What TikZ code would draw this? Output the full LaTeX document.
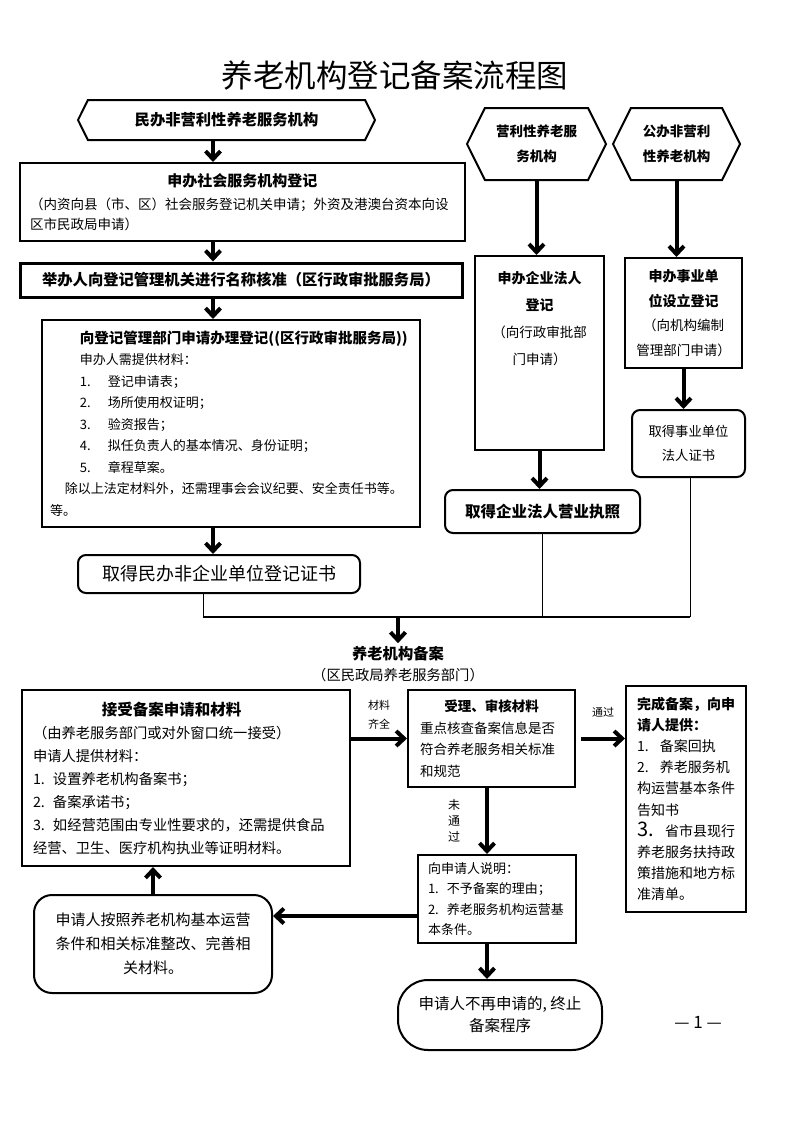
\documentclass[tikz,border=0pt]{standalone}
\usepackage{fontspec}
\setmainfont{Noto Sans CJK SC}
\usetikzlibrary{arrows.meta,shapes.symbols}

\newcommand{\ctrline}[1]{\makebox[\hsize]{#1}}
\newcommand{\numbox}[2]{\makebox[#1][l]{#2}}

\begin{document}
\begin{tikzpicture}[x=1pt, y=-1pt,
    box/.style={draw, line width=2pt, inner sep=0pt, align=left},
    rbox/.style={box, rounded corners=8pt, align=center},
    hexa/.style={draw, line width=2pt, signal, signal to=west and east,
      signal pointer angle=127, inner sep=0pt, align=center},
    arr/.style={line width=4pt, -{Straight Barb[length=8pt,width=15pt]}},
    link/.style={line width=1pt},
    bus/.style={line width=2.5pt},
    note/.style={inner sep=1pt, align=center, font=\fontsize{11}{19}\selectfont}]
  \useasboundingbox (0,0) rectangle (793,1122);

  \node (title) at (395,75) {\fontsize{31.5}{34}\selectfont 养老机构登记备案流程图};

  % left column: minban feizhengli
  \coordinate (col) at (213,0);
  \node[hexa, minimum width=297pt, minimum height=40pt,
    font=\bfseries\fontsize{15.3}{20}\selectfont] (minban) at (226.5,120) {民办非营利性养老服务机构};
  \node[box, minimum width=445pt, minimum height=78pt, text width=425pt,
    font=\fontsize{13.5}{20}\selectfont] (shehui) at (242.5,202)
    {\ctrline{\bfseries\fontsize{15}{20}\selectfont 申办社会服务机构登记}\\[3pt]%
     （内资向县（市、区）社会服务登记机关申请；外资及港澳台资本向设\\区市民政局申请）};
  \node[box, line width=3pt, align=center, minimum width=442pt, minimum height=34pt,
    font=\bfseries\fontsize{15.3}{20}\selectfont] (hezhun) at (241,280)
    {举办人向登记管理机关进行名称核准（区行政审批服务局）};
  \node[box, minimum width=378pt, minimum height=207pt, text width=366pt,
    font=\fontsize{13}{21.5}\selectfont] (dengji) at (231,423.5)
    {\hspace*{32pt}{\bfseries\fontsize{14.5}{21.5}\selectfont 向登记管理部门申请办理登记((区行政审批服务局))}\\
     \hspace*{32pt}申办人需提供材料：\\
     \hspace*{32pt}\numbox{28pt}{1.}登记申请表；\\
     \hspace*{32pt}\numbox{28pt}{2.}场所使用权证明；\\
     \hspace*{32pt}\numbox{28pt}{3.}验资报告；\\
     \hspace*{32pt}\numbox{28pt}{4.}拟任负责人的基本情况、身份证明；\\
     \hspace*{32pt}\numbox{28pt}{5.}章程草案。\\
     \hspace*{17pt}除以上法定材料外，还需理事会会议纪要、安全责任书等。\\
     \hspace*{2pt}等。};
  \node[rbox, minimum width=282pt, minimum height=38pt,
    font=\fontsize{18}{22}\selectfont] (minfei) at (219,574) {取得民办非企业单位登记证书};

  \draw[arr] (minban.south -| col) -- (shehui.north -| col);
  \draw[arr] (shehui.south -| col) -- (hezhun.north -| col);
  \draw[arr] (hezhun.south -| col) -- (dengji.north -| col);
  \draw[arr] (dengji.south -| col) -- (minfei.north -| col);

  % middle column: yingli
  \node[hexa, minimum width=139pt, minimum height=72pt,
    font=\bfseries\fontsize{13.5}{25}\selectfont] (yingli) at (536.5,144) {营利性养老服\\务机构};
  \node[box, anchor=north, align=center, minimum width=129pt, text width=117pt,
    text height=27pt, text depth=167pt, font=\fontsize{13.5}{27}\selectfont] (qiye) at (539.5,255)
    {{\bfseries\fontsize{14}{27}\selectfont 申办企业法人}\\{\bfseries\fontsize{14}{27}\selectfont 登记}\\（向行政审批部\\门申请）};
  \node[rbox, minimum width=195pt, minimum height=43pt,
    font=\bfseries\fontsize{15.5}{20}\selectfont] (zhizhao) at (542.5,511.5) {取得企业法人营业执照};

  % right column: gongban
  \node[hexa, minimum width=127pt, minimum height=72pt,
    font=\bfseries\fontsize{13.5}{25}\selectfont] (gongban) at (676.5,144) {公办非营利\\性养老机构};
  \node[box, align=center, minimum width=117pt, minimum height=110pt, text width=111pt,
    font=\fontsize{13.5}{24.5}\selectfont] (shiye) at (683.5,313)
    {{\bfseries\fontsize{14}{24.5}\selectfont 申办事业单}\\{\bfseries\fontsize{14}{24.5}\selectfont 位设立登记}\\（向机构编制\\管理部门申请）};
  \node[rbox, minimum width=113pt, minimum height=67pt,
    font=\fontsize{13.3}{24}\selectfont] (zhengshu) at (688.5,443.5) {取得事业单位\\法人证书};

  \draw[arr] (yingli.south) -- (yingli.south |- qiye.north);
  \draw[arr] (gongban.south) -- (gongban.south |- shiye.north);
  \draw[arr] (qiye.south) -- (qiye.south |- zhizhao.north);
  \draw[arr] (shiye.south) -- (shiye.south |- zhengshu.north);

  % bus line into beian
  \coordinate (bus-l) at (203,617);
  \coordinate (bus-m) at (398,617);
  \coordinate (bus-r) at (690,617);
  \draw[link] (minfei.south -| bus-l) -- (bus-l);
  \draw[link] (zhizhao.south) -- (zhizhao.south |- bus-l);
  \draw[link] (zhengshu.south -| bus-r) -- (bus-r);
  \draw[bus] (bus-l) -- (bus-r);

  \node[align=center, font=\fontsize{14.3}{21}\selectfont] (beian) at (398,664.5)
    {{\bfseries\fontsize{15.3}{21}\selectfont 养老机构备案}\\（区民政局养老服务部门）};
  \draw[arr] (bus-m) -- (beian.north);

  % beian steps
  \node[box, minimum width=328pt, minimum height=176pt, text width=306pt,
    font=\fontsize{14.3}{23}\selectfont] (jieshou) at (186,778)
    {\hspace*{69pt}{\bfseries\fontsize{15.5}{23}\selectfont 接受备案申请和材料}\\
     （由养老服务部门或对外窗口统一接受）\\
     申请人提供材料：\\
     \numbox{20pt}{1.}设置养老机构备案书；\\
     \numbox{20pt}{2.}备案承诺书；\\
     \numbox{20pt}{3.}如经营范围由专业性要求的，还需提供食品\\
     经营、卫生、医疗机构执业等证明材料。};
  \node[box, minimum width=167pt, minimum height=97pt, text width=143pt,
    font=\fontsize{13.5}{21.5}\selectfont] (shenhe) at (491.5,738.5)
    {\ctrline{\bfseries 受理、审核材料}\\重点核查备案信息是否\\符合养老服务相关标准\\和规范};
  \node[box, minimum width=120pt, minimum height=226pt, text width=98pt,
    font=\fontsize{14}{21.2}\selectfont] (wancheng) at (686,799)
    {{\bfseries 完成备案，向申}\\{\bfseries 请人提供：}\\
     \numbox{23pt}{1.}备案回执\\
     \numbox{23pt}{2.}养老服务机\\构运营基本条件\\告知书\\
     \numbox{28pt}{\fontsize{20}{21.2}\selectfont 3.}省市县现行\\养老服务扶持政\\策措施和地方标\\准清单。};
  \node[box, minimum width=158pt, minimum height=88pt, text width=138pt,
    font=\fontsize{13}{20.5}\selectfont] (shuoming) at (497,899)
    {向申请人说明：\\
     \numbox{19pt}{1.}不予备案的理由；\\
     \numbox{19pt}{2.}养老服务机构运营基\\本条件。};
  \node[rbox, rounded corners=18pt, minimum width=238pt, minimum height=98pt, text width=220pt,
    font=\fontsize{15}{24}\selectfont] (zhenggai) at (153,944)
    {申请人按照养老机构基本运营\\条件和相关标准整改、完善相\\关材料。};
  \node[rbox, rounded corners=30pt, minimum width=204pt, minimum height=70pt,
    font=\fontsize{15.5}{22}\selectfont] (zhongzhi) at (500,1015) {申请人不再申请的,\ 终止\\备案程序};
  \node[font=\fontsize{17}{20}\selectfont] (yema) at (698,1022) {—\ 1\ —};

  \coordinate (col2) at (487,0);
  \draw[arr] (jieshou.east |- shenhe.west) -- node[note, above=6pt] (qiquan) {材料\\齐全} (shenhe.west);
  \draw[arr] ([xshift=5pt]shenhe.east) -- node[note, above=18pt] (tongguo) {通过} (wancheng.west |- shenhe.east);
  \draw[arr] (shenhe.south -| col2) -- node[note, left=24pt, font=\fontsize{12}{16}\selectfont] (weitongguo) {未\\通\\过} (shuoming.north -| col2);
  \draw[arr] ([yshift=-17pt]shuoming.west) -- ([yshift=-17pt]shuoming.west -| zhenggai.east);
  \draw[arr] (zhenggai.north) -- (zhenggai.north |- jieshou.south);
  \draw[arr] (shuoming.south -| col2) -- (zhongzhi.north -| col2);
\end{tikzpicture}
\end{document}
